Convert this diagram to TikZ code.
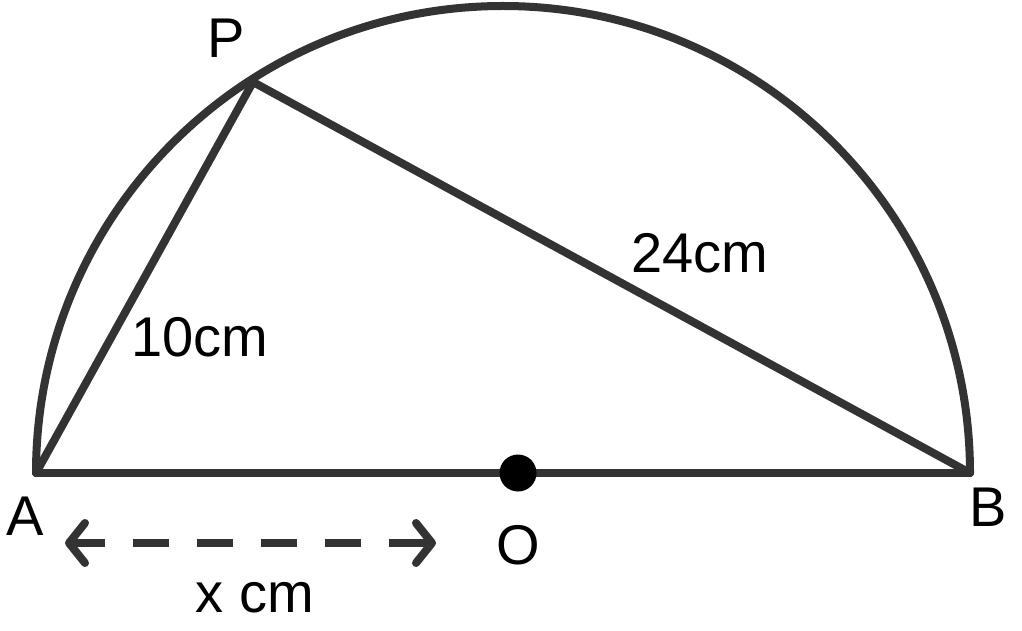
\documentclass[tikz,border=0pt]{standalone}
\usepackage{fontspec}
\setmainfont{Liberation Sans}
\usetikzlibrary{arrows.meta}
\definecolor{ink}{HTML}{333333}
\begin{document}
\begin{tikzpicture}[x=1pt,y=1pt,
  edge/.style={draw=ink,line width=8pt,line join=round,line cap=round},
  lbl/.style={font=\fontsize{56}{62}\selectfont,text=black,inner sep=0pt},
  dashline/.style={draw=ink,line width=8pt,dash pattern=on 36pt off 28pt,dash phase=60pt},
  headtip/.style={draw=ink,line width=8pt,{Straight Barb[length=16pt,width=40pt,round]}-}]
\useasboundingbox (0,0) rectangle (1022,630);
\coordinate (A) at (36,157);
\coordinate (B) at (970,157);
\coordinate (P) at (253,548);
\coordinate (O) at (518,157);
\draw[edge] (A) arc[start angle=180,end angle=0,radius=467];
\draw[edge] (A) -- (B);
\draw[edge] (A) -- (P) -- (B);
\fill[black] (O) circle[radius=18.5];
\node[lbl] (lP) at (226,592) {P};
\node[lbl] (lA) at (25,114) {A};
\node[lbl] (lO) at (518,85) {O};
\node[lbl] (lB) at (988,123) {B};
\node[lbl] (l10) at (200,293) {10cm};
\node[lbl] (l24) at (700,377) {24cm};
\node[lbl] (lx) at (255,32) {x cm};
\coordinate (d1) at (65,87);
\coordinate (d2) at (436,87);
\draw[dashline] (d1) -- (d2);
\draw[headtip] (d1) -- ++(30,0);
\draw[headtip] (d2) -- ++(-30,0);
\end{tikzpicture}
\end{document}
